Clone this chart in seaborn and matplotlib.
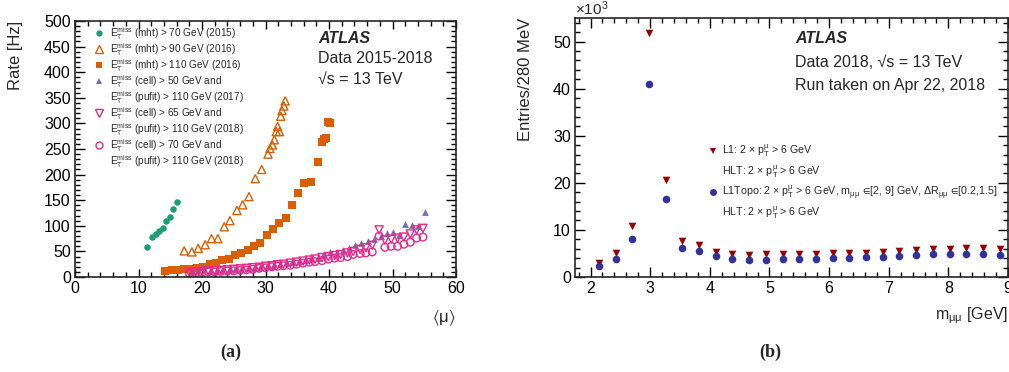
import numpy as np
import seaborn as sns
import matplotlib.pyplot as plt
from matplotlib.lines import Line2D
from matplotlib.ticker import MultipleLocator

# ---------------- dados painel (a): taxa vs <mu> ----------------
mu_2015 = [11.4, 12.2, 12.7, 13.3, 13.8, 14.4, 14.9, 15.5, 16.0]
rate_2015 = [58, 79, 84, 90, 96, 110, 117, 132, 147]

mu_2016a = [17.2, 18.4, 19.4, 20.5, 21.5, 22.5, 23.5, 24.4, 25.5, 26.4, 27.4, 28.4, 29.4,
            30.4, 30.7, 31.1, 31.4, 31.7, 31.9, 32.2, 32.4, 32.6, 32.9, 33.1]
rate_2016a = [51, 49, 56, 63, 75, 75, 98, 110, 130, 141, 157, 192, 210,
              240, 251, 258, 268, 284, 294, 284, 314, 325, 334, 344]

mu_2016b = [14.2, 15.2, 16.2, 17.2, 18.2, 19.2, 20.2, 21.2, 22.2, 23.2, 24.2, 25.2, 26.2, 27.2,
            28.2, 29.2, 30.2, 31.2, 32.2, 33.2, 34.1, 35.1, 36.1, 37.1, 38.2, 38.9, 39.2, 39.5,
            39.8, 40.1]
rate_2016b = [11, 14, 14, 15, 16, 18, 19, 25, 28, 33, 36, 42, 47, 53,
              61, 66, 83, 93, 105, 115, 141, 165, 184, 186, 225, 263, 270, 272,
              302, 300]

mu_2017 = [18.3, 19.2, 20.2, 21.2, 22.2, 23.2, 24.2, 25.2, 26.2, 27.2, 28.2, 29.2, 30.2, 31.2,
           32.3, 33.2, 34.1, 35.2, 36.2, 37.1, 38.2, 39.1, 40.2, 41.1, 42.2, 43.1, 44.1, 45.1,
           46.1, 47.1, 48.2, 49.1, 50.0, 51.1, 52.0, 53.1, 54.0, 55.1]
rate_2017 = [10, 11, 19, 12, 12, 13, 14, 15, 16, 17, 18, 19, 21, 22,
             25, 27, 29, 31, 34, 38, 38, 42, 48, 45, 53, 57, 62, 66,
             70, 75, 80, 85, 88, 83, 103, 102, 100, 126]

mu_2018 = [18.0, 19.0, 20.0, 21.0, 22.0, 23.0, 24.0, 25.0, 26.0, 27.0, 28.0, 29.0, 30.0, 31.0,
           31.9, 32.8, 33.9, 34.9, 35.9, 36.9, 37.8, 38.9, 39.9, 40.9, 41.8, 42.9, 43.8, 44.9,
           45.8, 46.8, 47.9, 48.8, 49.8, 50.8, 51.8, 52.8, 53.8, 54.8]
rate_2018a = [9, 10, 11, 12, 12, 13, 14, 15, 16, 17, 18, 19, 21, 22,
              24, 25, 27, 29, 31, 33, 35, 38, 40, 42, 44, 47, 50, 54,
              57, 62, 92, 72, 74, 76, 78, 84, 92, 95]
rate_2018b = [7, 8, 9, 10, 10, 11, 12, 12, 13, 14, 15, 17, 18, 20,
              21, 22, 23, 25, 27, 29, 30, 32, 35, 37, 38, 40, 44, 46,
              47, 49, 80, 58, 60, 60, 64, 68, 76, 78]

labels_a = [r'$\mathrm{E}_{\mathrm{T}}^{\mathrm{miss}}$ (mht) > 70 GeV (2015)',
            r'$\mathrm{E}_{\mathrm{T}}^{\mathrm{miss}}$ (mht) > 90 GeV (2016)',
            r'$\mathrm{E}_{\mathrm{T}}^{\mathrm{miss}}$ (mht) > 110 GeV (2016)',
            r'$\mathrm{E}_{\mathrm{T}}^{\mathrm{miss}}$ (cell) > 50 GeV and',
            r'$\mathrm{E}_{\mathrm{T}}^{\mathrm{miss}}$ (pufit) > 110 GeV (2017)',
            r'$\mathrm{E}_{\mathrm{T}}^{\mathrm{miss}}$ (cell) > 65 GeV and',
            r'$\mathrm{E}_{\mathrm{T}}^{\mathrm{miss}}$ (pufit) > 110 GeV (2018)',
            r'$\mathrm{E}_{\mathrm{T}}^{\mathrm{miss}}$ (cell) > 70 GeV and',
            r'$\mathrm{E}_{\mathrm{T}}^{\mathrm{miss}}$ (pufit) > 110 GeV (2018)']

# ---------------- dados painel (b): m_mumu ----------------
m_mumu = [2.14, 2.42, 2.70, 2.98, 3.26, 3.54, 3.82, 4.10, 4.38, 4.66, 4.94, 5.22, 5.50,
          5.78, 6.06, 6.34, 6.62, 6.90, 7.18, 7.46, 7.74, 8.02, 8.30, 8.58, 8.86]
entries_l1 = [3.0, 5.2, 10.8, 51.8, 20.7, 7.6, 6.7, 5.4, 4.8, 4.7, 4.8, 4.9, 4.8,
              4.9, 5.0, 5.0, 5.2, 5.3, 5.6, 5.8, 5.9, 6.0, 6.2, 6.2, 6.0]
entries_topo = [2.3, 3.9, 8.0, 41.0, 16.5, 6.2, 5.6, 4.4, 3.8, 3.7, 3.7, 3.9, 3.8,
                3.9, 4.0, 4.0, 4.2, 4.3, 4.5, 4.6, 4.8, 4.8, 4.9, 4.9, 4.7]

labels_b = [r'L1: 2 × p$_{\mathrm{T}}^{\mathrm{μ}}$ > 6 GeV',
            r'HLT: 2 × p$_{\mathrm{T}}^{\mathrm{μ}}$ > 6 GeV',
            r'L1Topo: 2 × p$_{\mathrm{T}}^{\mathrm{μ}}$ > 6 GeV, m$_{\mathrm{μμ}}$ $\!\in\!$[2, 9] GeV, ΔR$_{\mathrm{μμ}}$ $\!\in\!$[0.2,1.5]',
            r'HLT: 2 × p$_{\mathrm{T}}^{\mathrm{μ}}$ > 6 GeV']

sns.set_style('ticks')
plt.rcParams['font.family'] = ['Liberation Sans', 'DejaVu Sans']
plt.rcParams['mathtext.fontset'] = 'custom'
plt.rcParams['mathtext.rm'] = 'Liberation Sans'
plt.rcParams['mathtext.it'] = 'Liberation Sans:italic'
plt.rcParams['mathtext.bf'] = 'Liberation Sans:bold'
plt.rcParams['mathtext.fallback'] = 'stixsans'

pal = sns.color_palette('Dark2')
c_green, c_orange, c_purple, c_pink = pal[0], pal[1], pal[2], pal[3]
c_red = '#9b0000'
c_blue = '#31319b'

fig = plt.figure(figsize=(10.09, 3.72), dpi=100)
ax1 = fig.add_axes([75 / 1009, 1 - 277 / 372, 381 / 1009, 256 / 372])
ax2 = fig.add_axes([575 / 1009, 1 - 277 / 372, 433 / 1009, 259 / 372])


def estilo_root(ax, xmaj, xmin, ymaj, ymin):
    ax.xaxis.set_major_locator(MultipleLocator(xmaj))
    ax.xaxis.set_minor_locator(MultipleLocator(xmin))
    ax.yaxis.set_major_locator(MultipleLocator(ymaj))
    ax.yaxis.set_minor_locator(MultipleLocator(ymin))
    ax.tick_params(which='both', direction='in', top=True, right=True, width=1.0,
                   labelsize=11.5, colors='black')
    ax.tick_params(which='major', length=7, pad=3)
    ax.tick_params(which='minor', length=3.5)
    for s in ax.spines.values():
        s.set_visible(True)
        s.set_linewidth(1.2)


def abrir(ax, cor):
    # deixa os marcadores do ultimo scatter vazados
    pts = ax.collections[-1]
    pts.set_facecolor('none')
    pts.set_edgecolor(cor)
    pts.set_linewidth(1.0)


# ---------------- painel (a) ----------------
sns.scatterplot(x=mu_2015, y=rate_2015, ax=ax1, marker='o', s=22, color=c_green, linewidth=0)
sns.scatterplot(x=mu_2016a, y=rate_2016a, ax=ax1, marker='^', s=34, color=c_orange)
abrir(ax1, c_orange)
sns.scatterplot(x=mu_2016b, y=rate_2016b, ax=ax1, marker='s', s=30, color=c_orange, linewidth=0)
sns.scatterplot(x=mu_2017, y=rate_2017, ax=ax1, marker='^', s=24, color=c_purple, linewidth=0)
sns.scatterplot(x=mu_2018, y=rate_2018a, ax=ax1, marker='v', s=34, color=c_pink)
abrir(ax1, c_pink)
sns.scatterplot(x=mu_2018, y=rate_2018b, ax=ax1, marker='o', s=30, color=c_pink)
abrir(ax1, c_pink)

ax1.set_xlim(0, 60)
ax1.set_ylim(0, 500)
estilo_root(ax1, 10, 2, 50, 10)
ax1.tick_params(which='major', axis='x', length=5.5)
ax1.set_ylabel('Rate [Hz]', fontsize=12, loc='top')
ax1.yaxis.set_label_coords(-0.136, 1.0)
ax1.set_xlabel(r'$\langle\mathrm{μ}\rangle$', fontsize=12, loc='right')
ax1.xaxis.set_label_coords(1.0, -0.125)

vazio = Line2D([], [], linestyle='none', marker='None')
hands_a = [Line2D([], [], linestyle='none', marker='o', markersize=4.5, color=c_green, markeredgewidth=0),
           Line2D([], [], linestyle='none', marker='^', markersize=5.5, markerfacecolor='none',
                  markeredgecolor=c_orange, markeredgewidth=1.0),
           Line2D([], [], linestyle='none', marker='s', markersize=5, color=c_orange, markeredgewidth=0),
           Line2D([], [], linestyle='none', marker='^', markersize=4.5, color=c_purple, markeredgewidth=0),
           vazio,
           Line2D([], [], linestyle='none', marker='v', markersize=5.5, markerfacecolor='none',
                  markeredgecolor=c_pink, markeredgewidth=1.0),
           vazio,
           Line2D([], [], linestyle='none', marker='o', markersize=5, markerfacecolor='none',
                  markeredgecolor=c_pink, markeredgewidth=1.0),
           vazio]
ax1.legend(hands_a, labels_a, loc='upper left', bbox_to_anchor=(0.028, 1.012), frameon=False,
           fontsize=7.2, labelspacing=-0.08, handlelength=1.2, handletextpad=0.5,
           borderaxespad=0.3)

ax1.text(0.638, 0.932, 'ATLAS', transform=ax1.transAxes, fontsize=11.5, fontweight='bold',
         fontstyle='italic', va='center')
ax1.text(0.638, 0.852, 'Data 2015-2018', transform=ax1.transAxes, fontsize=11.5, va='center')
ax1.text(0.638, 0.772, '√s = 13 TeV', transform=ax1.transAxes, fontsize=11.5, va='center')

# ---------------- painel (b) ----------------
sns.scatterplot(x=m_mumu, y=entries_l1, ax=ax2, marker='v', s=30, color=c_red, linewidth=0)
sns.scatterplot(x=m_mumu, y=entries_topo, ax=ax2, marker='o', s=30, color=c_blue, linewidth=0)

ax2.set_xlim(1.74, 9.0)
ax2.set_ylim(0, 55)
estilo_root(ax2, 1, 0.2, 10, 2)
ax2.set_ylabel('Entries/280 MeV', fontsize=12, loc='top')
ax2.yaxis.set_label_coords(-0.097, 1.0)
ax2.set_xlabel(r'm$_{\mathrm{μμ}}$ [GeV]', fontsize=11.5, loc='right')
ax2.xaxis.set_label_coords(1.0, -0.11)
ax2.text(0.0, 1.0, r'$\times10^{3}$', transform=ax2.transAxes, fontsize=11,
         ha='left', va='bottom')

hands_b = [Line2D([], [], linestyle='none', marker='v', markersize=5, color=c_red, markeredgewidth=0),
           vazio,
           Line2D([], [], linestyle='none', marker='o', markersize=5, color=c_blue, markeredgewidth=0),
           vazio]
ax2.legend(hands_b, labels_b, loc='upper left', bbox_to_anchor=(0.296, 0.535), frameon=False,
           fontsize=7.7, labelspacing=0.35, handlelength=1.0, handletextpad=0.4,
           borderaxespad=0.0)

ax2.text(0.508, 0.92, 'ATLAS', transform=ax2.transAxes, fontsize=11.5, fontweight='bold',
         fontstyle='italic', va='center')
ax2.text(0.508, 0.83, 'Data 2018, √s = 13 TeV', transform=ax2.transAxes,
         fontsize=11.5, va='center')
ax2.text(0.508, 0.738, 'Run taken on Apr 22, 2018', transform=ax2.transAxes, fontsize=11.5,
         va='center')

# rotulos dos paineis
fig.text(231 / 1009, 1 - 352 / 372, '(a)', fontsize=13, fontweight='bold',
         family=['Liberation Serif', 'DejaVu Serif'], ha='center', va='center')
fig.text(770 / 1009, 1 - 352 / 372, '(b)', fontsize=13, fontweight='bold',
         family=['Liberation Serif', 'DejaVu Serif'], ha='center', va='center')

fig.savefig('out.png', dpi=100)
plt.close(fig)
